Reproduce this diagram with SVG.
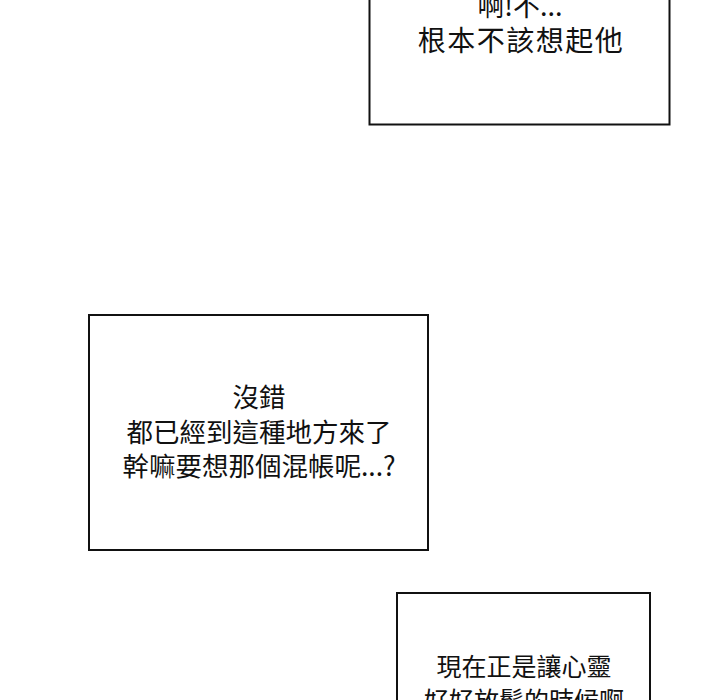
<svg xmlns="http://www.w3.org/2000/svg" width="720" height="700" viewBox="0 0 720 700">
<style>
.b{fill:#fff;stroke:#111;stroke-width:2}
.t{font-family:"Noto Sans CJK TC","Noto Sans CJK SC",sans-serif;font-size:26.5px;fill:#111;text-anchor:middle}
</style>
<rect width="720" height="700" fill="#fff"/>
<g id="panel1"><rect class="b" x="369.5" y="-10" width="300" height="134.5"/>
<text class="t" x="520" y="16" style="font-size:27px">啊!不...</text>
<text class="t" x="521" y="51" style="font-size:28px;letter-spacing:1.5px">根本不該想起他</text></g>
<g id="panel2"><rect class="b" x="89" y="315" width="339" height="235"/>
<text class="t" x="259" y="407">沒錯</text>
<text class="t" x="259" y="442">都已經到這種地方來了</text>
<text class="t" x="259" y="476">幹嘛要想那個混帳呢...?</text></g>
<g id="panel3"><rect class="b" x="397" y="593" width="253" height="130"/>
<text class="t" x="524" y="676" style="font-size:25px">現在正是讓心靈</text>
<text class="t" x="524" y="710" style="font-size:25px">好好放鬆的時候啊</text></g>
<g id="connectors"/>
</svg>
